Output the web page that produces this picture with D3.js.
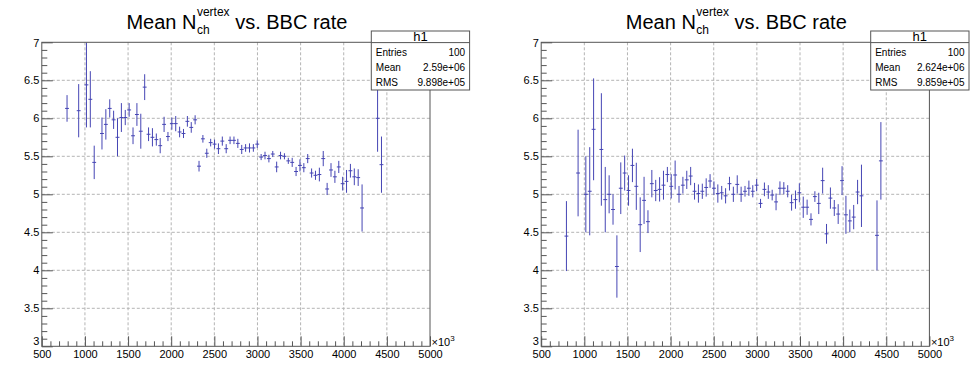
<!DOCTYPE html>
<html>
<head>
<meta charset="utf-8">
<script src="https://cdn.jsdelivr.net/npm/d3@7"></script>
<style>
  body { margin: 0; background: #fff; }
  svg { display: block; font-family: "Liberation Sans", Arial, sans-serif; }
</style>
</head>
<body>
<svg id="canvas" width="979" height="372"></svg>
<script>
// histogram binning: 100 bins between 500 and 5000 (x10^3)
const nBins = 100;
const xMin = 500;
const xMax = 5000;

// filled bins (0-based bin index)
const binIdx = [6, 9, 11, 12, 13,
  15, 16, 17, 18, 19, 20, 21, 22, 23, 24,
  25, 26, 27, 28, 29, 30, 31, 32, 33, 34,
  35, 36, 37, 38, 39, 40, 41, 42, 43, 44,
  45, 46, 47, 48, 49, 50, 51, 52, 53, 54,
  55, 56, 57, 58, 59, 60, 61, 62, 63, 64,
  65, 66, 67, 68, 69, 70, 71, 72, 73, 74,
  75, 76, 77, 78, 79, 80, 81, 82,
  86, 87];

const meanLeft = [6.13, 6.10, 6.44, 6.25, 5.42,
  5.80, 5.92, 6.13, 5.98, 5.75, 6.01, 6.01, 6.11, 5.77, 6.05,
  5.83, 6.41, 5.79, 5.75, 5.72, 5.64, 5.92, 5.76, 5.93, 5.93,
  5.82, 5.80, 5.96, 5.88, 5.98, 5.37, 5.73, 5.54, 5.68, 5.66,
  5.60, 5.70, 5.60, 5.71, 5.71, 5.67, 5.59, 5.61, 5.61, 5.61,
  5.66, 5.49, 5.51, 5.47, 5.53, 5.36, 5.51, 5.50, 5.44, 5.42,
  5.30, 5.38, 5.35, 5.47, 5.28, 5.25, 5.26, 5.47, 5.07, 5.32,
  5.23, 5.36, 5.14, 5.17, 5.31, 5.23, 5.22, 4.82,
  6.00, 5.39];
const errLeft = [0.175, 0.35, 0.56, 0.37, 0.22,
  0.21, 0.20, 0.12, 0.12, 0.25, 0.19, 0.10, 0.09, 0.11, 0.15,
  0.23, 0.17, 0.09, 0.12, 0.08, 0.10, 0.10, 0.06, 0.08, 0.10,
  0.07, 0.06, 0.07, 0.07, 0.06, 0.07, 0.05, 0.06, 0.05, 0.06,
  0.07, 0.06, 0.06, 0.05, 0.05, 0.06, 0.06, 0.05, 0.06, 0.05,
  0.05, 0.04, 0.05, 0.05, 0.04, 0.07, 0.05, 0.04, 0.04, 0.06,
  0.06, 0.08, 0.06, 0.06, 0.06, 0.06, 0.09, 0.10, 0.08, 0.09,
  0.08, 0.08, 0.09, 0.15, 0.09, 0.11, 0.11, 0.31,
  0.44, 0.37];

const meanRight = [4.45, 5.28, 5.00, 5.04, 5.855,
  5.59, 4.93, 5.00, 4.80, 4.05, 5.08, 5.28, 5.05, 5.38, 5.105,
  4.60, 4.92, 4.64, 5.14, 5.05, 5.065, 5.12, 5.26, 5.105, 5.254,
  5.00, 5.12, 5.19, 5.24, 5.04, 5.01, 5.04, 5.09, 5.175, 5.08,
  5.01, 5.02, 4.98, 5.14, 5.00, 5.13, 5.00, 5.04, 5.08, 5.04,
  5.12, 4.88, 5.065, 5.03, 4.99, 4.90, 5.08, 5.08, 5.04, 4.89,
  4.93, 5.02, 4.83, 4.83, 4.67, 4.97, 4.88, 5.18, 4.48, 4.95,
  4.82, 4.74, 5.18, 4.73, 4.65, 4.70, 5.03, 4.98,
  4.46, 5.44];
const errRight = [0.46, 0.57, 0.50, 0.58, 0.67,
  0.74, 0.43, 0.25, 0.20, 0.41, 0.34, 0.23, 0.20, 0.22, 0.31,
  0.36, 0.31, 0.15, 0.18, 0.14, 0.16, 0.19, 0.10, 0.16, 0.19,
  0.11, 0.11, 0.12, 0.12, 0.11, 0.12, 0.10, 0.12, 0.09, 0.09,
  0.12, 0.09, 0.10, 0.09, 0.10, 0.12, 0.10, 0.07, 0.10, 0.08,
  0.08, 0.06, 0.09, 0.09, 0.07, 0.11, 0.09, 0.08, 0.08, 0.105,
  0.12, 0.125, 0.14, 0.10, 0.08, 0.07, 0.14, 0.17, 0.13, 0.14,
  0.105, 0.13, 0.19, 0.25, 0.15, 0.16, 0.16, 0.41,
  0.46, 0.51];

const xTicks = [500, 1000, 1500, 2000, 2500, 3000, 3500, 4000, 4500, 5000];
const yTicks = [3, 3.5, 4, 4.5, 5, 5.5, 6, 6.5, 7];
const statNames = ["Entries", "Mean", "RMS"];
const statLeft = ["100", "2.59e+06", "9.898e+05"];
const statRight = ["100", "2.624e+06", "9.859e+05"];

const svg = d3.select("#canvas");
svg.append("rect").attr("width", 979).attr("height", 372).attr("fill", "#fff");

const frameW = 388.2, frameTop = 42.3, frameBot = 346.3;
const axisCol = "#555";
const dataCol = "#4545b4";

function drawTitle(cx) {
  let t = svg.append("g").attr("fill", "#000");
  let a = t.append("text").attr("x", 0).attr("y", 29).attr("font-size", 20).text("Mean N");
  let w1 = a.node().getComputedTextLength() + 0.5;
  let sup = t.append("text").attr("x", w1).attr("y", 15.5).attr("font-size", 12).text("vertex");
  let sub = t.append("text").attr("x", w1).attr("y", 33.5).attr("font-size", 12).text("ch");
  let w2 = Math.max(sup.node().getComputedTextLength(), sub.node().getComputedTextLength());
  let b = t.append("text").attr("x", w1 + w2 + 5.5).attr("y", 29).attr("font-size", 20).text("vs. BBC rate");
  let total = w1 + w2 + 5.5 + b.node().getComputedTextLength();
  t.attr("transform", `translate(${cx - total / 2},0)`);
}

function drawPanel(x0, means, errs, stats, id) {
  const x = d3.scaleLinear().domain([xMin, xMax]).range([x0, x0 + frameW]);
  const y = d3.scaleLinear().domain([3, 7]).range([frameBot, frameTop]);
  const g = svg.append("g");

  // dashed grid
  g.selectAll(".gx").data(xTicks.slice(1, -1)).join("line")
    .attr("x1", d => x(d)).attr("x2", d => x(d))
    .attr("y1", frameTop).attr("y2", frameBot)
    .attr("stroke", "#b4b4b4").attr("stroke-dasharray", "3,2");
  g.selectAll(".gy").data(yTicks.slice(1, -1)).join("line")
    .attr("x1", x0).attr("x2", x0 + frameW)
    .attr("y1", d => y(d)).attr("y2", d => y(d))
    .attr("stroke", "#b4b4b4").attr("stroke-dasharray", "3,2");

  // error bars, clipped to the frame
  g.append("clipPath").attr("id", "clip" + id).append("rect")
    .attr("x", x0).attr("y", frameTop).attr("width", frameW).attr("height", frameBot - frameTop);
  const binW = (xMax - xMin) / nBins;
  const pts = binIdx.map((k, i) => ({ lo: xMin + k * binW, hi: xMin + (k + 1) * binW, m: means[i], e: errs[i] }));
  const marks = g.append("g").attr("clip-path", `url(#clip${id})`)
    .attr("stroke", dataCol).attr("stroke-width", 1);
  marks.selectAll(".h").data(pts).join("line")
    .attr("x1", d => x(d.lo)).attr("x2", d => x(d.hi))
    .attr("y1", d => y(d.m)).attr("y2", d => y(d.m));
  marks.selectAll(".v").data(pts).join("line")
    .attr("x1", d => x((d.lo + d.hi) / 2)).attr("x2", d => x((d.lo + d.hi) / 2))
    .attr("y1", d => y(d.m - d.e)).attr("y2", d => y(d.m + d.e));

  // axes: majors and minors, ticks pointing into the frame
  const xMinor = d3.range(xMin, xMax + 1, 100).filter(v => v % 500 !== 0);
  const yMinor = d3.range(30, 71).map(v => v / 10).filter(v => Math.round(v * 10) % 5 !== 0);

  g.append("g").attr("transform", `translate(0,${frameBot})`)
    .call(d3.axisBottom(x).tickValues(xTicks).tickSizeInner(-10).tickSizeOuter(0).tickPadding(3.6).tickFormat(d3.format("d")));
  g.append("g").attr("transform", `translate(0,${frameBot})`)
    .call(d3.axisBottom(x).tickValues(xMinor).tickSizeInner(-5).tickSizeOuter(0).tickFormat(""));
  const ay = g.append("g").attr("transform", `translate(${x0},0)`)
    .call(d3.axisLeft(y).tickValues(yTicks).tickSizeInner(-11).tickSizeOuter(0).tickPadding(2.4).tickFormat(d => String(d)));
  g.append("g").attr("transform", `translate(${x0},0)`)
    .call(d3.axisLeft(y).tickValues(yMinor).tickSizeInner(-5.5).tickSizeOuter(0).tickFormat(""));

  g.selectAll(".domain").remove();
  g.selectAll(".tick line").attr("stroke", axisCol);
  g.selectAll(".tick text").attr("fill", "#000").attr("font-size", 11)
    .attr("font-family", "Liberation Sans, Arial, sans-serif");
  // ROOT nudges the end labels inside
  ay.selectAll(".tick text").filter(d => d === 3).attr("dy", "-0.12em");
  ay.selectAll(".tick text").filter(d => d === 7).attr("dy", "0.42em");

  // frame
  g.append("rect").attr("x", x0).attr("y", frameTop).attr("width", frameW).attr("height", frameBot - frameTop)
    .attr("fill", "none").attr("stroke", axisCol);

  // x10^3 exponent label
  const ex = g.append("text").attr("x", x0 + frameW + 1.5).attr("y", 345.5).attr("font-size", 11);
  ex.append("tspan").text("\u00d710");
  ex.append("tspan").attr("font-size", 8).attr("dy", -5).text("3");

  drawTitle(x0 + frameW / 2 + 1);

  // stats box
  const bx = x0 + 329.5, bw = 98.3, by = 31, bh = 59;
  const sb = svg.append("g");
  sb.append("rect").attr("x", bx).attr("y", by).attr("width", bw).attr("height", bh)
    .attr("fill", "#fff").attr("stroke", axisCol);
  sb.append("line").attr("x1", bx).attr("x2", bx + bw).attr("y1", 42.6).attr("y2", 42.6).attr("stroke", axisCol);
  sb.append("text").attr("x", bx + bw / 2).attr("y", 40.8).attr("text-anchor", "middle")
    .attr("font-size", 13).text("h1");
  statNames.forEach((n, i) => {
    sb.append("text").attr("x", bx + 4.5).attr("y", 56 + i * 15).attr("font-size", 10).text(n);
    sb.append("text").attr("x", bx + bw - 4.5).attr("y", 56 + i * 15).attr("font-size", 10)
      .attr("text-anchor", "end").text(stats[i]);
  });
}

drawPanel(41.8, meanLeft, errLeft, statLeft, "L");
drawPanel(541.2, meanRight, errRight, statRight, "R");
</script>
</body>
</html>
